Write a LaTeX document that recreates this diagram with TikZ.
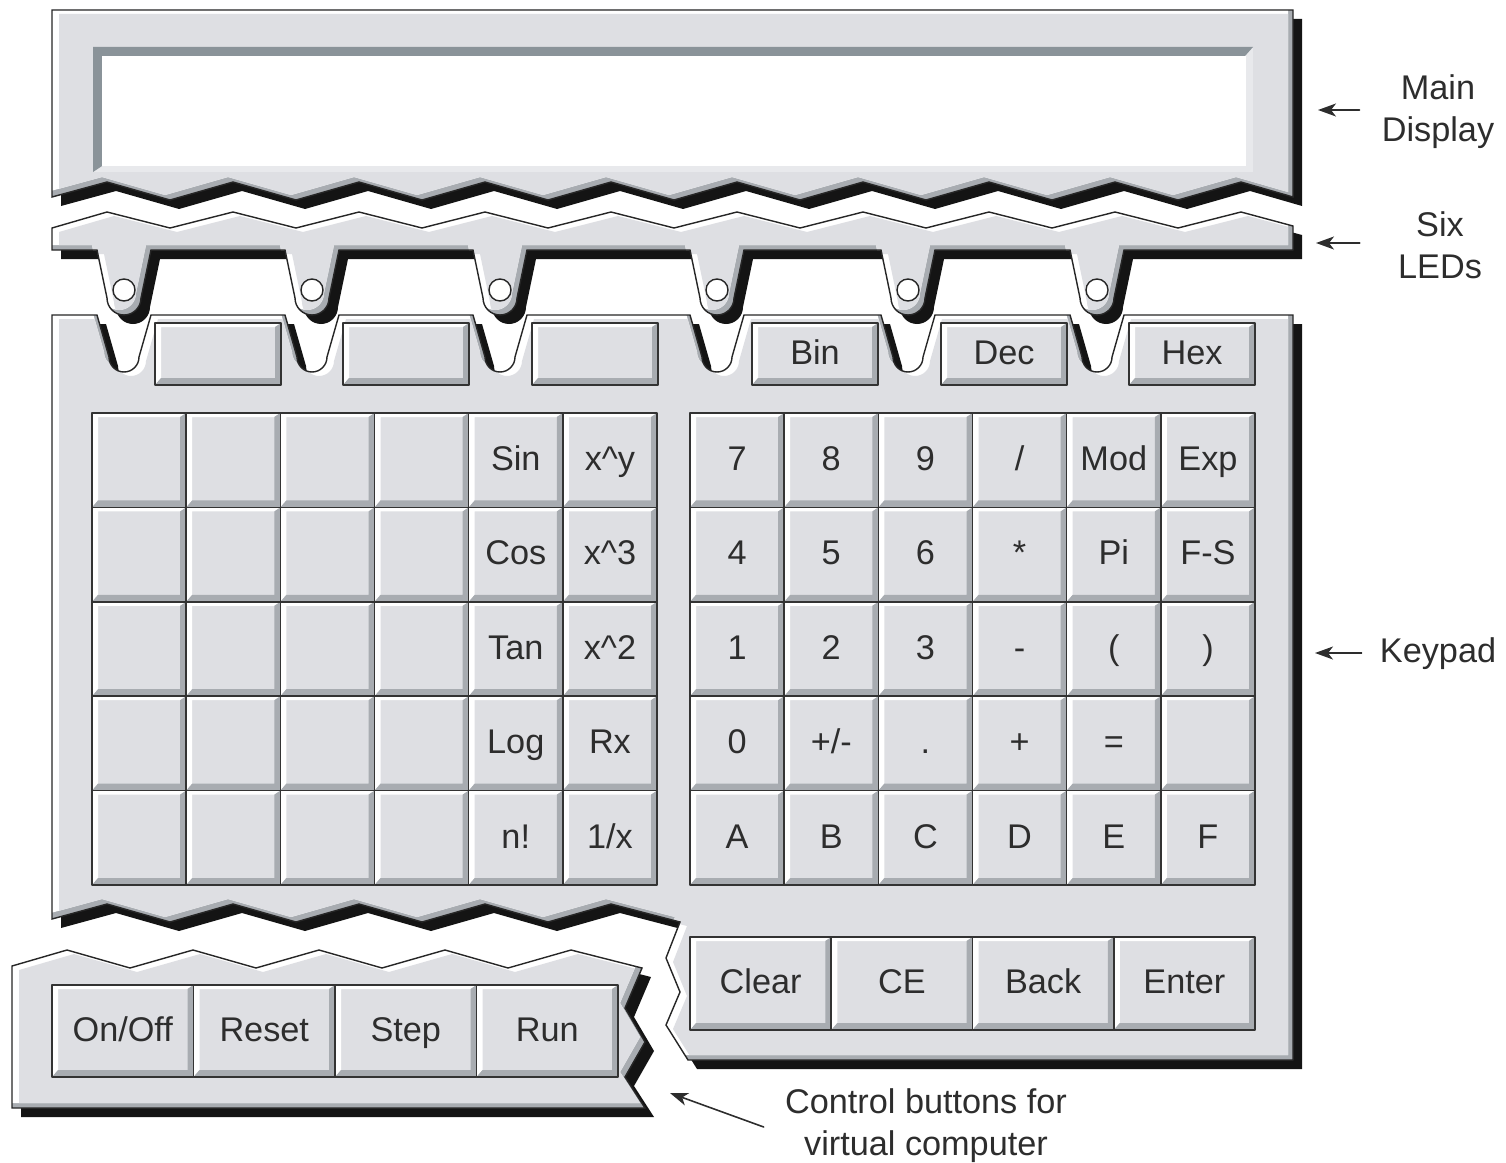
\documentclass[tikz,border=0pt]{standalone}
\usepackage{fontspec}
\setmainfont{Liberation Sans}
\usetikzlibrary{arrows.meta,calc}

\definecolor{panelface}{RGB}{222,223,227}
\definecolor{panelshade}{RGB}{168,172,177}
\definecolor{windowshade}{RGB}{138,147,153}
\definecolor{windowlight}{RGB}{232,233,236}
\definecolor{inkgray}{RGB}{45,45,45}

\tikzset{
  dropshade/.style={fill=black!92},
  paneledge/.style={draw=black!85, line width=0.8pt, line join=miter},
  keyedge/.style={draw=black!80, line width=0.9pt},
  keylabel/.style={font=\fontsize{19.5}{24}\selectfont, text=inkgray, inner sep=0pt, text height=0.72em, text depth=0pt, yshift=-0.08cm},
  callout/.style={font=\fontsize{19.5}{24}\selectfont, text=inkgray, align=center, inner sep=0pt},
  pointer/.style={-{Stealth[length=0.36cm,width=0.26cm,inset=0.1cm]}, line width=0.9pt, draw=inkgray},
  led/.style={circle, draw=black!85, fill=white, line width=0.8pt, minimum size=0.44cm, inner sep=0pt}
}

% outlines of the four panels (pixel grid, y downwards)
\newcommand\displayoutline{(52,10) -- (52,197) \foreach \kk in {0,...,8}{ -- ({107+126*\kk},182) -- ({170+126*\kk},200)} -- (1241,182) -- (1293,197) -- (1293,10) -- cycle}
\newcommand\ledoutline{(52,228) -- (52,250) \foreach \cx in {124,312,500,717,908,1097}{ -- ({\cx-27},250) -- ({\cx-17},298) arc[start angle=180, end angle=0, radius=17] -- ({\cx+27},250)} -- (1293,250) -- (1293,226) -- (1241,212) \foreach \kk in {8,...,0}{ -- ({170+126*\kk},228) -- ({107+126*\kk},212)} -- cycle}
\newcommand\keypadoutline{(52,315) \foreach \cx in {124,312,500,717,908,1097}{ -- ({\cx-27},315) -- ({\cx-15},357) arc[start angle=180, end angle=0, radius=15] -- ({\cx+27},315)} -- (1293,315) -- (1293,1060) -- (688,1060) -- (666,1025) -- (680,992) -- (666,958) -- (680,922) -- (611,904) \foreach \kk in {4,...,1}{ -- ({44+126*\kk},922) -- ({107+126*(\kk-1)},904)} -- (52,919) -- cycle}
\newcommand\ctrloutline{(12,966) -- (12,1108) -- (645,1108) -- (625,1077) -- (645,1042) -- (625,1008) -- (642,968) \foreach \kk in {4,...,1}{ -- ({67+126*\kk},950) -- ({4+126*\kk},968)} -- (67,950) -- cycle}

% panel: drop shadow, bevel, outline
\newcommand\bevelpanel[1]{%
  \fill[dropshade, shift={(9,9)}] #1;
  \begin{scope}
    \clip #1;
    \fill[panelshade] #1;
    \fill[white, shift={(-5,-5)}] #1;
    \begin{scope}
      \clip[shift={(-5,-5)}] #1;
      \fill[panelface, shift={(7,4)}] #1;
    \end{scope}
  \end{scope}
  \draw[paneledge] #1;
}

% key: name, x1, y1, x2, y2, label
\newcommand\calckey[6]{%
  \fill[panelface] (#2,#3) rectangle (#4,#5);
  \fill[white] (#2,#3) -- (#4,#3) -- ({#4-6},{#3+4}) -- ({#2+6},{#3+4}) -- ({#2+6},{#5-7}) -- (#2,#5) -- cycle;
  \fill[panelshade] (#4,#5) -- (#4,#3) -- ({#4-6},{#3+4}) -- ({#4-6},{#5-7}) -- ({#2+6},{#5-7}) -- (#2,#5) -- cycle;
  \draw[keyedge] (#2,#3) rectangle (#4,#5);
  \node[keylabel] (#1) at ({(#2+#4)/2},{(#3+#5)/2}) {#6};
}

\begin{document}
\begin{tikzpicture}[x=0.02cm, y=-0.02cm, line cap=round, line join=round]
  \useasboundingbox (0,0) rectangle (1506,1162);

  % Main display
  \bevelpanel{\displayoutline}
  \fill[windowlight] (93,47) rectangle (1253,172);
  \fill[windowshade] (93,47) -- (1253,47) -- (1245,56) -- (102,56) -- (102,166) -- (93,172) -- cycle;
  \fill[white] (102,56) rectangle (1246,166);

  % LED strip
  \bevelpanel{\ledoutline}
  \foreach \cx [count=\i] in {124,312,500,717,908,1097}
    \node[led] (led\i) at (\cx,290) {};

  % Keypad panel
  \bevelpanel{\keypadoutline}

  % mode buttons under the LEDs
  \foreach \xa/\lab [count=\i] in {155/{},343/{},532/{},752/Bin,941/Dec,1129/Hex} {
    \pgfmathsetmacro\xb{\xa+126}
    \calckey{mode\i}{\xa}{323}{\xb}{385}{\lab}
  }

  % function keys
  \foreach \row [count=\ri from 0] in {{{},{},{},{},Sin,x\textasciicircum y},{{},{},{},{},Cos,x\textasciicircum 3},{{},{},{},{},Tan,x\textasciicircum 2},{{},{},{},{},Log,Rx},{{},{},{},{},n!,1/x}} {
    \foreach \lab [count=\ci from 0] in \row {
      \pgfmathsetmacro\xa{92+94.17*\ci}
      \pgfmathsetmacro\xb{\xa+94.17}
      \pgfmathsetmacro\ya{413+94.4*\ri}
      \pgfmathsetmacro\yb{\ya+94.4}
      \calckey{fn-\ri-\ci}{\xa}{\ya}{\xb}{\yb}{\lab}
    }
  }

  % number keys
  \foreach \row [count=\ri from 0] in {{7,8,9,{/},Mod,Exp},{4,5,6,*,Pi,F-S},{1,2,3,-,{(},{)}},{0,{+/-},.,+,=,{}},{A,B,C,D,E,F}} {
    \foreach \lab [count=\ci from 0] in \row {
      \pgfmathsetmacro\xa{690+94.17*\ci}
      \pgfmathsetmacro\xb{\xa+94.17}
      \pgfmathsetmacro\ya{413+94.4*\ri}
      \pgfmathsetmacro\yb{\ya+94.4}
      \calckey{num-\ri-\ci}{\xa}{\ya}{\xb}{\yb}{\lab}
    }
  }

  % edit keys
  \foreach \lab [count=\i from 0] in {Clear,CE,Back,Enter} {
    \pgfmathsetmacro\xa{690+141.25*\i}
    \pgfmathsetmacro\xb{\xa+141.25}
    \calckey{edit\i}{\xa}{937}{\xb}{1030}{\lab}
  }

  % Control panel
  \bevelpanel{\ctrloutline}
  \foreach \lab [count=\i from 0] in {{On/Off},Reset,Step,Run} {
    \pgfmathsetmacro\xa{52+141.5*\i}
    \pgfmathsetmacro\xb{\xa+141.5}
    \calckey{ctrl\i}{\xa}{985}{\xb}{1077}{\lab}
  }

  % Callouts
  \node[callout] (maindisp) at (1438,112) {Main\\Display};
  \node[callout] (sixleds) at (1440,245) {Six\\LEDs};
  \node[callout] (keypadlbl) at (1438,654) {Keypad};
  \node[callout] (ctrllbl) at (926,1126) {Control buttons for\\virtual computer};
  \coordinate (disptip) at (1318,110);
  \coordinate (ledtip) at (1316,243);
  \coordinate (padtip) at (1315,653);
  \coordinate (ctrltip) at (670,1093);
  \draw[pointer] ($(maindisp.west)+(-22,-2)$) -- (disptip);
  \draw[pointer] ($(sixleds.west)+(-38,-2)$) -- (ledtip);
  \draw[pointer] ($(keypadlbl.west)+(-18,-1)$) -- (padtip);
  \draw[pointer] ($(ctrllbl.west)+(-21,1)$) -- (ctrltip);

\end{tikzpicture}
\end{document}
